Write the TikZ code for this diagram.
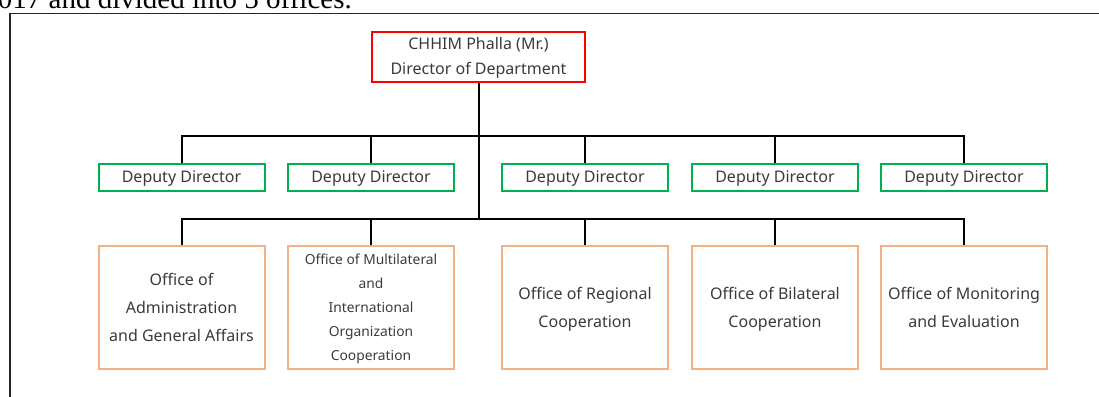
\documentclass[tikz,border=0pt]{standalone}
\usepackage{fontspec}
\setmainfont{Noto Sans}
\newfontfamily\topserif{Liberation Serif}
\definecolor{txtgray}{HTML}{3A3A3A}
\definecolor{dirred}{HTML}{FF0000}
\definecolor{depgreen}{HTML}{00B050}
\definecolor{offorange}{HTML}{F4B183}
\newcommand{\tb}[1]{\begin{tabular}{@{}c@{}}#1\end{tabular}}
\tikzset{
  base/.style={draw, line width=2pt, inner sep=0pt, align=center, text=txtgray,
    font=\fontsize{16}{28}\selectfont},
  dirbox/.style={base, draw=dirred, minimum width=213pt, minimum height=50pt,
    font=\fontsize{16}{25}\selectfont},
  depbox/.style={base, draw=depgreen, minimum width=166pt, minimum height=27pt,
    font=\fontsize{16}{26}\selectfont},
  offbox/.style={base, draw=offorange, minimum width=166pt, minimum height=123pt},
  smalltext/.style={font=\fontsize{13.8}{24}\selectfont},
  conn/.style={line width=2pt, black},
}
\begin{document}
\begin{tikzpicture}[x=1pt,y=-1pt]
\useasboundingbox (0,0) rectangle (1099,396);
\clip (0,0) rectangle (1099,396);
% cropped page text and frame
\node[anchor=base east, inner sep=0pt, font=\topserif\fontsize{29}{30}\selectfont] (toptext) at (352,9) {017 and divided into 5 offices.};
\coordinate (frameTL) at (10,13.5);
\draw[line width=1.3pt, black!85] (10,400) -- (frameTL) -- (1105,13.5);
% director
\node[dirbox] (dir) at (478.5,57) {\tb{CHHIM Phalla (Mr.)\\Director of Department}};
% deputies
\node[depbox] (d1) at (181.5,177.5) {\tb{Deputy Director}};
\node[depbox] (d2) at (371,177.5) {\tb{Deputy Director}};
\node[depbox] (d3) at (585,177.5) {\tb{Deputy Director}};
\node[depbox] (d4) at (775,177.5) {\tb{Deputy Director}};
\node[depbox] (d5) at (964,177.5) {\tb{Deputy Director}};
% offices
\node[offbox] (o1) at (181.5,307.5) {\tb{Office of\\Administration\\and General Affairs}};
\node[offbox, smalltext] (o2) at (371,307.5) {\tb{Office of Multilateral\\and\\International\\Organization\\Cooperation}};
\node[offbox] (o3) at (585,307.5) {\tb{Office of Regional\\Cooperation}};
\node[offbox] (o4) at (775,307.5) {\tb{Office of Bilateral\\Cooperation}};
\node[offbox] (o5) at (964,307.5) {\tb{Office of Monitoring\\and Evaluation}};
% buses
\coordinate (ub) at (478.5,136);
\coordinate (lb) at (478.5,219);
\draw[conn] (dir.south) -- (lb);
\draw[conn] (d1.north) |- (ub) -| (d5.north);
\foreach \n in {d2,d3,d4} \draw[conn] (\n.north) -- (\n.north |- ub);
\draw[conn] (o1.north) |- (lb) -| (o5.north);
\foreach \n in {o2,o3,o4} \draw[conn] (\n.north) -- (\n.north |- lb);
\end{tikzpicture}
\end{document}
